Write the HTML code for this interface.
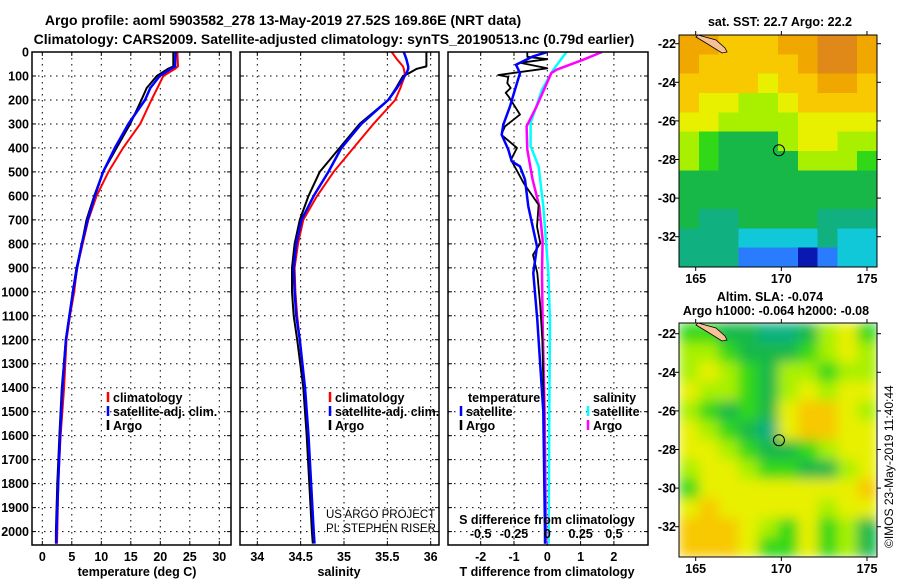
<!DOCTYPE html>
<html><head><meta charset="utf-8"><style>
html,body{margin:0;padding:0;background:#fff}
svg{display:block;font-family:"Liberation Sans",Arial,sans-serif}
.b{font-weight:bold;font-size:12.5px}
</style></head><body>
<svg id="c" width="900" height="580" viewBox="0 0 900 580" xmlns="http://www.w3.org/2000/svg">
<defs>
<clipPath id="cp1"><rect x="32" y="52" width="199" height="493"/></clipPath>
<clipPath id="cp2"><rect x="240" y="52" width="199" height="493"/></clipPath>
<clipPath id="cp3"><rect x="448" y="52" width="200" height="493"/></clipPath>
<clipPath id="cpm1"><rect x="679" y="35" width="198" height="232"/></clipPath>
<clipPath id="cpm2"><rect x="679" y="323" width="198" height="234"/></clipPath>
<filter id="bl" x="0" y="0" width="1" height="1"><feGaussianBlur stdDeviation="6" edgeMode="duplicate"/></filter>
</defs>
<g class="b" font-size="14">
<text x="283" y="25" text-anchor="middle" font-size="14">Argo profile: aoml 5903582_278 13-May-2019 27.52S 169.86E (NRT data)</text>
<text x="334" y="44" text-anchor="middle" font-size="14">Climatology: CARS2009. Satellite-adjusted climatology: synTS_20190513.nc (0.79d earlier)</text>
</g>
<g id="g"></g>
</svg>
<script>
// ---- profile data ----
const tDepth=[0,60,70,100,150,200,300,400,500,600,700,800,900,1000,1100,1200,1400,1600,1800,2000,2050];
const tArgo=[22.2,22.2,21.3,19.4,17.7,16.8,14.9,12.6,10.3,8.8,7.5,6.7,5.8,5.15,4.6,4.0,3.3,2.9,2.55,2.3,2.3];
const tSat=[22.6,22.5,21.8,19.9,18.3,17.4,14.6,12.3,10.3,8.9,7.7,6.7,5.9,5.2,4.6,4.0,3.4,3.0,2.7,2.4,2.35];
const tClim=[22.9,23.0,22.5,20.5,19.5,18.5,16.6,13.7,11.2,9.2,7.8,6.85,5.9,5.4,4.7,4.1,3.7,3.1,2.7,2.55,2.5];
const sDepth=[0,30,60,70,90,100,150,200,300,400,500,600,700,800,900,1000,1100,1200,1400,1600,1800,2000,2050];
const sArgo=[35.95,35.95,35.95,35.84,35.74,35.68,35.60,35.51,35.18,34.95,34.72,34.59,34.49,34.43,34.40,34.40,34.42,34.46,34.53,34.57,34.60,34.63,34.64];
const sSat=[35.69,35.72,35.74,35.74,35.72,35.70,35.61,35.51,35.20,34.97,34.82,34.65,34.51,34.45,34.42,34.43,34.45,34.49,34.55,34.59,34.62,34.65,34.66];
const sClim=[35.55,35.61,35.68,35.69,35.70,35.70,35.65,35.59,35.34,35.11,34.88,34.69,34.53,34.47,34.43,34.44,34.46,34.49,34.54,34.58,34.61,34.65,34.66];
const dtArgoDepth=[0,20,30,45,68,96,104,130,150,170,188,261,310,345,400,449,547,637,728,797,846,922,1061,1200,1500,2000,2050];
const dtArgo=[-0.6,-0.6,0,-0.82,0,-1.47,-1.17,-1.2,-1.1,-1.25,-1.15,-0.82,-1.27,-1.38,-0.91,-1.09,-0.71,-0.26,-0.31,-0.21,-0.43,-0.3,-0.21,-0.15,-0.1,-0.07,-0.07];
const dtSatDepth=[0,18,53,88,157,227,303,345,407,456,477,532,644,811,922,1117,1500,2000,2050];
const dtSat=[0,-0.42,-0.94,-0.82,-0.97,-1.12,-1.32,-1.37,-1.17,-1.07,-0.82,-0.67,-0.57,-0.31,-0.42,-0.3,-0.12,-0.07,-0.07];
const dsArgoDepth=[0,32,74,88,227,310,407,532,644,783,922,1117,1500,2050];
const dsArgo=[0.41,0.27,0.07,0.03,-0.08,-0.155,-0.15,-0.11,-0.06,-0.035,-0.04,-0.035,-0.02,-0.01];
const dsSatDepth=[0,18,74,157,296,393,477,644,922,1117,1500,2050];
const dsSat=[0.145,0.12,0.045,-0.04,-0.125,-0.125,-0.065,-0.03,0.008,0.02,0.015,0.01];
const depthTicks=[0,100,200,300,400,500,600,700,800,900,1000,1100,1200,1300,1400,1500,1600,1700,1800,1900,2000];
const tTicks=[0,5,10,15,20,25,30];
const sTicks=[34,34.5,35,35.5,36];
const sTickLabels=["34","34.5","35","35.5","36"];
const dTTicks=[-2,-1,0,1,2];
const dSTicks=[-0.5,-0.25,0,0.25,0.5];
const dSTickLabels=["-0.5","-0.25","0","0.25","0.5"];
// ---- map data (colour class grids, 10 cols x 12 rows) ----
const sstGrid=[
[8,8,7,7,7,8,8,9,9,8],[8,7,7,7,7,7,8,9,9,8],[7,7,7,7,6,7,7,8,8,7],[7,6,6,5,5,6,7,7,7,7],
[6,6,5,5,5,5,6,6,6,6],[5,4,3,3,3,5,6,6,5,5],[5,4,3,3,3,3,5,5,5,4],[3,3,3,3,3,3,3,3,3,3],
[3,3,3,3,3,3,3,3,3,3],[3,2,2,3,3,3,3,2,2,2],[2,2,2,1,1,1,1,2,1,1],[2,2,2,0,0,0,-1,0,1,1]];
const slaGrid=[
[4,4,3,3,2,2,3,5,6,4],[5,5,4,3,3,3,4,5,6,5],[5,6,5,4,3,5,5,4,5,5],[6,5,5,4,3,5,6,5,6,6],
[5,4,3,4,3,6,7,7,6,5],[6,5,4,3,2,6,7,7,6,6],[6,6,5,4,3,3,4,5,6,6],[5,6,6,5,4,4,3,3,5,6],
[4,6,6,6,6,6,6,6,6,7],[6,7,6,6,6,6,6,5,6,6],[7,7,7,6,5,4,6,4,5,3],[7,7,7,6,4,4,6,4,5,3]];
const lonTicks=[165,170,175];
const latTicks=[-22,-24,-26,-28,-30,-32];
const argoLon=169.86, argoLat=-27.52;

const NS='http://www.w3.org/2000/svg';
const G=document.getElementById('g');
function mk(tag,at,parent){const e=document.createElementNS(NS,tag);for(const k in at)e.setAttribute(k,at[k]);(parent||G).appendChild(e);return e;}
function tx(x,y,s,anchor,parent,size){const e=mk('text',{x:x,y:y,'text-anchor':anchor||'start',class:'b','font-size':size||12.5},parent);e.textContent=s;return e;}
const yD=d=>52+d*0.2398;
const xT=t=>42.3+t*5.9;
const xS=s=>257.3+(s-34)*86.7;
const xDT=v=>547.3+v*33.3;
const xDS=v=>547.3+v*133.3;
const TOP=52,BOT=545;

function panel(x0,x1,name,xs,xf,labels,ytickLabels){
  const g=mk('g',{});
  
  
  depthTicks.forEach(d=>{const l=mk('line',{x1:x0,x2:x1,y1:yD(d),y2:yD(d),stroke:'#000','stroke-width':1,'stroke-dasharray':'1.5,4.5'},g);
    
    mk('line',{x1:x0,x2:x0+4,y1:yD(d),y2:yD(d),stroke:'#000'},g);mk('line',{x1:x1-4,x2:x1,y1:yD(d),y2:yD(d),stroke:'#000'},g);});
  xs.forEach((v,i)=>{const X=xf(v);const l=mk('line',{x1:X,x2:X,y1:TOP,y2:BOT,stroke:'#000','stroke-width':1,'stroke-dasharray':'1.5,4.5'},g);
    
    mk('line',{x1:X,x2:X,y1:BOT-4,y2:BOT,stroke:'#000'},g);mk('line',{x1:X,x2:X,y1:TOP,y2:TOP+4,stroke:'#000'},g);
    if(labels){const t=tx(X,561,labels[i],'middle',g);}});
  if(ytickLabels){depthTicks.forEach(d=>{const t=tx(29,yD(d)+4.5,String(d),'end',g);});}
  return g;
}
function line(parent,clip,ds,vs,xf,color,w,name){
  const pts=ds.map((d,i)=>xf(vs[i]).toFixed(1)+','+yD(d).toFixed(1)).join(' ');
  const p=mk('polyline',{points:pts,fill:'none',stroke:color,'stroke-width':w,'clip-path':'url(#'+clip+')','stroke-linejoin':'round'},parent);
  
  
}
function frame(parent,x0,x1){mk('rect',{x:x0,y:TOP,width:x1-x0,height:BOT-TOP,fill:'none',stroke:'#000','stroke-width':1.5},parent);}
function legendItem(parent,x,y,color,label,name){
  mk('line',{x1:x,x2:x,y1:y-10,y2:y,stroke:color,'stroke-width':2.5},parent);
  const t=tx(x+5,y,label,'start',parent);
  
  
}

// Panel 1 temperature
const p1=panel(32,231,'temperature-panel',tTicks,xT,tTicks.map(String),true);
line(p1,'cp1',tDepth,tClim,xT,'#ff0000',2,'temp-climatology-line');
line(p1,'cp1',tDepth,tArgo,xT,'#000',2,'temp-argo-line');
line(p1,'cp1',tDepth,tSat,xT,'#0000ff',2.5,'temp-satellite-line');
frame(p1,32,231);
legendItem(p1,108,402,'#ff0000','climatology','legend-climatology');
legendItem(p1,108,416,'#0000ff','satellite-adj. clim.','legend-satellite-adj');
legendItem(p1,108,430,'#000','Argo','legend-argo');
{const t=tx(137,576,'temperature (deg C)','middle',p1);}

// Panel 2 salinity
const p2=panel(240,439,'salinity-panel',sTicks,xS,sTickLabels,false);
line(p2,'cp2',sDepth,sClim,xS,'#ff0000',2,'sal-climatology-line');
line(p2,'cp2',sDepth,sArgo,xS,'#000',2,'sal-argo-line');
line(p2,'cp2',sDepth,sSat,xS,'#0000ff',2.5,'sal-satellite-line');
frame(p2,240,439);
legendItem(p2,330,402,'#ff0000','climatology','legend-climatology-2');
legendItem(p2,330,416,'#0000ff','satellite-adj. clim.','legend-satellite-adj-2');
legendItem(p2,330,430,'#000','Argo','legend-argo-2');
{const a=mk('text',{x:326,y:518,'font-size':11.5,fill:'#000'},p2);a.textContent='US ARGO PROJECT';
 const b=mk('text',{x:326,y:532,'font-size':11.5,fill:'#000'},p2);b.textContent='PI: STEPHEN RISER';}
{const t=tx(339,576,'salinity','middle',p2);}

// Panel 3 differences
const p3=panel(448,648,'difference-panel',dTTicks,xDT,dTTicks.map(String),false);
line(p3,'cp3',dsSatDepth,dsSat,xDS,'#00ffff',2.5,'sdiff-satellite-line');
line(p3,'cp3',dsArgoDepth,dsArgo,xDS,'#ff00ff',2.5,'sdiff-argo-line');
line(p3,'cp3',dtArgoDepth,dtArgo,xDT,'#000',1.8,'tdiff-argo-line');
line(p3,'cp3',dtSatDepth,dtSat,xDT,'#0000ff',2.5,'tdiff-satellite-line');
frame(p3,448,648);
{const t=tx(468,402,'temperature','start',p3);
 const s=tx(593,402,'salinity','start',p3);}
legendItem(p3,461,416,'#0000ff','satellite','legend-t-satellite');
legendItem(p3,461,430,'#000','Argo','legend-t-argo');
legendItem(p3,588,416,'#00ffff','satellite','legend-s-satellite');
legendItem(p3,588,430,'#ff00ff','Argo','legend-s-argo');
{const t=tx(547,524,'S difference from climatology','middle',p3);}
dSTicks.forEach((v,i)=>{const t=tx(xDS(v),538,dSTickLabels[i],'middle',p3);});
{const t=tx(547,576,'T difference from climatology','middle',p3);}

// Maps
const cmap={'-1':'#0818b0','0':'#2a7cff','1':'#10c8d8','2':'#10b080','3':'#18b848','4':'#30d818','5':'#a8f000','6':'#e8f000','7':'#f8c800','8':'#f0a800','9':'#e08818'};
const MX0=679,MX1=877;
const xL=l=>695.7+(l-165)*17.13;
function map(grid,y0,y1,clip,name,blur,latY){
  const g=mk('g',{});
  
  
  const cells=mk('g',{'clip-path':'url(#'+clip+')'},g);
  const inner=mk('g',blur?{filter:'url(#bl)'}:{'shape-rendering':'crispEdges'},cells);
  const rows=grid.length,cols=grid[0].length,cw=(MX1-MX0)/cols,ch=(y1-y0)/rows;
  grid.forEach((r,i)=>r.forEach((v,j)=>{const c=mk('rect',{x:MX0+j*cw,y:y0+i*ch,width:cw+0.5,height:ch+0.5,fill:cmap[String(v)]},inner);
    }));
  mk('polygon',{points:'698,35 716,40 725,48 727,52 722,53 706,43 696,37',transform:'translate(0,'+(y0-35)+')',fill:'#f8c098',stroke:'#000','stroke-width':0.8},cells);
  const cx=xL(argoLon),cy=latY(argoLat);
  const ci=mk('circle',{cx:cx,cy:cy,r:5.5,fill:'none',stroke:'#000','stroke-width':1},g);
  
  mk('rect',{x:MX0,y:y0,width:MX1-MX0,height:y1-y0,fill:'none',stroke:'#000','stroke-width':1},g);
  lonTicks.forEach(l=>{const X=xL(l);mk('line',{x1:X,x2:X,y1:y1,y2:y1+4,stroke:'#000'},g);mk('line',{x1:X,x2:X,y1:y0-4,y2:y0,stroke:'#000'},g);
    const t=tx(X,y1+16,String(l),'middle',g);});
  latTicks.forEach(l=>{const Y=latY(l);mk('line',{x1:MX0-4,x2:MX0,y1:Y,y2:Y,stroke:'#000'},g);mk('line',{x1:MX1,x2:MX1+4,y1:Y,y2:Y,stroke:'#000'},g);
    const t=tx(676,Y+4.5,String(l),'end',g);});
}
map(sstGrid,35,267,'cpm1','sst-map',false,l=>43.7+(-22-l)*19.3);
map(slaGrid,323,557,'cpm2','sla-map',true,l=>333.7+(-22-l)*19.3);
{const t=tx(780,26,'sat. SST: 22.7 Argo: 22.2','middle');
 const a=tx(770,301,'Altim. SLA: -0.074','middle');
 const b=tx(776,315,'Argo h1000: -0.064 h2000: -0.08','middle');
 const c=mk('text',{x:0,y:0,'font-size':12,transform:'translate(893,548) rotate(-90)'});c.textContent='©IMOS 23-May-2019 11:40:44';}
</script>
</body></html>
